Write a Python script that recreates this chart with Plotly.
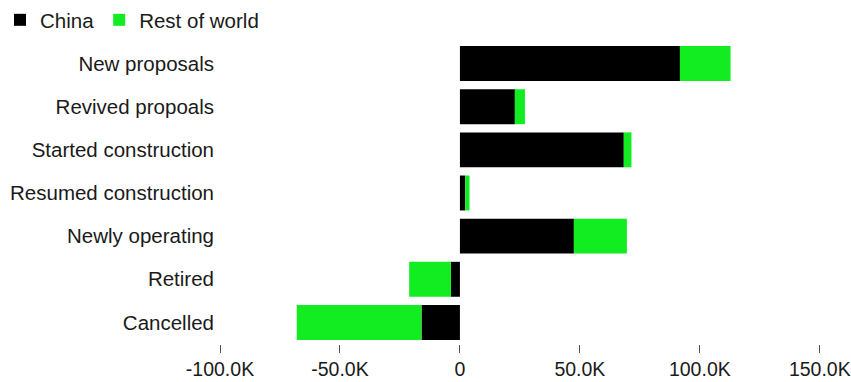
import plotly.graph_objects as go

categories = ["New proposals", "Revived propoals", "Started construction",
              "Resumed construction", "Newly operating", "Retired", "Cancelled"]
china = [91700, 22900, 68300, 2200, 47500, -3750, -16000]
rest_of_world = [21100, 4200, 3200, 1800, 22100, -17400, -52000]
tick_vals = [-100000, -50000, 0, 50000, 100000, 150000]
tick_text = ["-100.0K", "-50.0K", "0", "50.0K", "100.0K", "150.0K"]

FONT = "Liberation Sans, Arial, sans-serif"
GREEN = "#12ED22"

fig = go.Figure()
fig.add_trace(go.Bar(y=categories, x=china, orientation="h", name="China",
                     marker=dict(color="#000000", line=dict(width=0))))
fig.add_trace(go.Bar(y=categories, x=rest_of_world, orientation="h", name="Rest of world",
                     marker=dict(color=GREEN, line=dict(width=0))))

fig.update_layout(
    width=851, height=382,
    barmode="relative", bargap=0.19,
    paper_bgcolor="white", plot_bgcolor="white",
    margin=dict(l=220, r=30, t=42, b=38, autoexpand=False),
    font=dict(family=FONT, size=20, color="#1a1a1a"),
    legend=dict(orientation="h", x=-0.012, y=1.0, xref="container", yref="container",
                xanchor="left", yanchor="top", font=dict(size=20.5, color="#1a1a1a"),
                traceorder="normal", itemclick=False, bgcolor="rgba(0,0,0,0)"),
    showlegend=True,
)
fig.update_xaxes(range=[-100000, 150500], tickvals=tick_vals, ticktext=tick_text,
                 ticks="outside", ticklen=8, tickcolor="#555555", tickwidth=1,
                 showgrid=False, zeroline=False, showline=False,
                 tickfont=dict(size=19.5, color="#1a1a1a"), automargin=False)
fig.update_yaxes(categoryorder="array", categoryarray=categories, autorange="reversed",
                 ticks="", showgrid=False, zeroline=False, showline=False,
                 ticklabelstandoff=5, tickfont=dict(size=20.5, color="#1a1a1a"),
                 automargin=False)

fig.write_html("out.html")
